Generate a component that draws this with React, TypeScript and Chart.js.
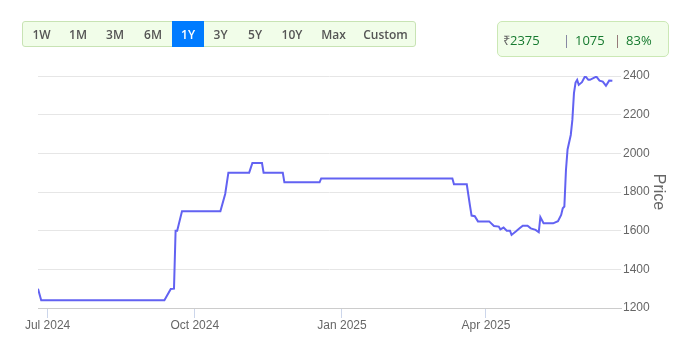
import { useEffect, useRef } from 'react';
import { Chart, registerables } from 'chart.js';

Chart.register(...registerables);

// ---- data ----
const dates = [
  '2024-06-25', '2024-06-27', '2024-09-12', '2024-09-16', '2024-09-18', '2024-09-19',
  '2024-09-20', '2024-09-23', '2024-10-17', '2024-10-20', '2024-10-22', '2024-11-04',
  '2024-11-06', '2024-11-12', '2024-11-13', '2024-11-25', '2024-11-26', '2024-12-18',
  '2024-12-19', '2025-03-11', '2025-03-12', '2025-03-20', '2025-03-22', '2025-03-23',
  '2025-03-25', '2025-03-27', '2025-04-03', '2025-04-06', '2025-04-09', '2025-04-10',
  '2025-04-12', '2025-04-14', '2025-04-16', '2025-04-17', '2025-04-20', '2025-04-22',
  '2025-04-24', '2025-04-27', '2025-04-29', '2025-05-02', '2025-05-04', '2025-05-05',
  '2025-05-07', '2025-05-13', '2025-05-16', '2025-05-18', '2025-05-19', '2025-05-20',
  '2025-05-21', '2025-05-22', '2025-05-24', '2025-05-25', '2025-05-26', '2025-05-27',
  '2025-05-28', '2025-05-29', '2025-05-31', '2025-06-02', '2025-06-04', '2025-06-05',
  '2025-06-09', '2025-06-11', '2025-06-13', '2025-06-15', '2025-06-17', '2025-06-19',
];
const prices = [
  1300, 1240, 1240, 1298, 1300, 1600,
  1600, 1700, 1700, 1790, 1900, 1900,
  1950, 1950, 1900, 1900, 1850, 1850,
  1870, 1870, 1840, 1840, 1730, 1678,
  1675, 1648, 1648, 1624, 1621, 1607,
  1616, 1600, 1600, 1578, 1598, 1612,
  1626, 1626, 1612, 1604, 1592, 1670,
  1638, 1638, 1649, 1681, 1716, 1725,
  1914, 2020, 2095, 2173, 2311, 2366,
  2380, 2354, 2368, 2400, 2380, 2380,
  2397, 2376, 2371, 2350, 2376, 2375,
];
const xTickDates = ['2024-07-01', '2024-10-01', '2025-01-01', '2025-04-01'];
const xTickLabels = ['Jul 2024', 'Oct 2024', 'Jan 2025', 'Apr 2025'];
const yTickValues = [1200, 1400, 1600, 1800, 2000, 2200, 2400];
const rangeButtons = ['1W', '1M', '3M', '6M', '1Y', '3Y', '5Y', '10Y', 'Max', 'Custom'];
const selectedRange = '1Y';
const lastPrice = 2375;
const priceChange = 1075;
const priceChangePct = 83;

// ---- helpers ----
const ORIGIN = Date.UTC(2024, 6, 1);
function dayIndex(d: string): number {
  const [y, m, dd] = d.split('-').map(Number);
  return (Date.UTC(y, m - 1, dd) - ORIGIN) / 86400000;
}

// button boxes (layout)
const buttonLefts = [23, 60, 96, 134, 172, 204, 237, 273, 311, 356];
const buttonWidths = [37, 36, 38, 38, 32, 33, 36, 38, 45, 59];

export default function App() {
  const canvasRef = useRef<HTMLCanvasElement | null>(null);

  useEffect(() => {
    if (!canvasRef.current) return;
    const tickDays = xTickDates.map(dayIndex);
    const chart = new Chart(canvasRef.current, {
      type: 'line',
      data: {
        datasets: [
          {
            label: 'Price',
            data: dates.map((d, i) => ({ x: dayIndex(d), y: prices[i] })),
            borderColor: '#6262f2',
            borderWidth: 2,
            pointRadius: 0,
            tension: 0,
            fill: false,
          },
        ],
      },
      options: {
        animation: false,
        responsive: true,
        maintainAspectRatio: false,
        layout: { padding: { top: 76, left: 38, right: 0, bottom: 0 } },
        plugins: {
          legend: { display: false },
          tooltip: { enabled: false },
        },
        scales: {
          x: {
            type: 'linear',
            min: dayIndex('2024-06-25'),
            max: dayIndex('2024-06-25') + 364.4,
            afterBuildTicks: (axis: any) => {
              axis.ticks = tickDays.map((v) => ({ value: v }));
            },
            afterFit: (axis: any) => {
              axis.height = 47;
            },
            grid: {
              drawOnChartArea: false,
              drawTicks: true,
              tickLength: 10,
              color: '#ccd6eb',
            },
            border: { display: true, color: '#cccccc', width: 1 },
            ticks: {
              autoSkip: false,
              maxRotation: 0,
              padding: 0,
              color: '#666666',
              font: { size: 12, family: 'Arial, "Liberation Sans", sans-serif' },
              callback: (v: any) => {
                const i = tickDays.indexOf(Number(v));
                return i >= 0 ? xTickLabels[i] : '';
              },
            },
          },
          y: {
            position: 'right',
            min: 1200,
            max: 2400,
            afterBuildTicks: (axis: any) => {
              axis.ticks = yTickValues.map((v) => ({ value: v }));
            },
            afterFit: (axis: any) => {
              axis.width = 65;
            },
            grid: { color: '#e6e6e6', drawTicks: false },
            border: { display: false },
            ticks: {
              padding: 2,
              color: '#666666',
              font: { size: 12, family: 'Arial, "Liberation Sans", sans-serif' },
              callback: (v: any) => String(v),
            },
            title: {
              display: true,
              text: 'Price',
              color: '#666666',
              font: { size: 16, family: 'Arial, "Liberation Sans", sans-serif' },
              padding: { top: 18, bottom: 0 },
            },
          },
        },
      },
    } as any);
    return () => chart.destroy();
  }, []);

  const uiFont = '"Open Sans", Arial, sans-serif';

  return (
    <div
      style={{
        position: 'fixed',
        left: 0,
        top: 0,
        width: 686,
        height: 355,
        background: '#ffffff',
        overflow: 'hidden',
      }}
    >
      <canvas ref={canvasRef} style={{ position: 'absolute', left: 0, top: 0 }} />
      {/* range selector */}
      <div
        style={{
          position: 'absolute',
          left: 22,
          top: 21,
          width: 394,
          height: 26,
          boxSizing: 'border-box',
          background: '#f1fde9',
          border: '1px solid #c8e3b4',
          borderRadius: 3,
        }}
      />
      {rangeButtons.map((b, i) => {
        const sel = b === selectedRange;
        return (
          <div
            key={b}
            style={{
              position: 'absolute',
              left: buttonLefts[i],
              top: 21,
              width: buttonWidths[i],
              height: 26,
              lineHeight: '27px',
              textAlign: 'center',
              fontFamily: uiFont,
              fontSize: 12,
              fontWeight: 600,
              color: sel ? '#ffffff' : '#555555',
              background: sel ? '#007bff' : 'transparent',
            }}
          >
            {b}
          </div>
        );
      })}
      {/* info box */}
      <div
        style={{
          position: 'absolute',
          left: 497,
          top: 21,
          width: 172,
          height: 36,
          boxSizing: 'border-box',
          background: '#f1fde9',
          border: '1px solid #cbe8b5',
          borderRadius: 5,
        }}
      />
      <div
        style={{
          position: 'absolute',
          left: 503,
          top: 30,
          height: 20,
          lineHeight: '20px',
          fontFamily: uiFont,
          fontSize: 13,
          color: '#167a2f',
          whiteSpace: 'nowrap',
        }}
      >
        <span style={{ color: '#666666' }}>₹</span>
        {lastPrice}
      </div>
      <div style={{ position: 'absolute', left: 563, top: 30, lineHeight: '20px', fontFamily: uiFont, fontSize: 13, color: '#7a7a9a' }}>|</div>
      <div style={{ position: 'absolute', left: 575, top: 30, lineHeight: '20px', fontFamily: uiFont, fontSize: 13, color: '#167a2f' }}>{priceChange}</div>
      <div style={{ position: 'absolute', left: 614, top: 30, lineHeight: '20px', fontFamily: uiFont, fontSize: 13, color: '#8a6a6a' }}>|</div>
      <div style={{ position: 'absolute', left: 626, top: 30, lineHeight: '20px', fontFamily: uiFont, fontSize: 13, color: '#167a2f' }}>{priceChangePct}%</div>
    </div>
  );
}
